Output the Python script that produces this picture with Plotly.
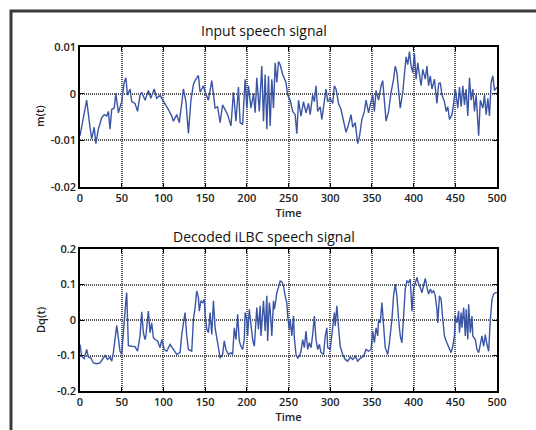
import plotly.graph_objects as go

# ---------------- data ----------------
t_in = [0, 8, 12, 14, 17, 19, 22, 26, 29, 32, 34, 36, 38, 41, 43, 46, 50, 53, 55, 57,
        60, 62, 66, 69, 72, 74, 78, 82, 85, 89, 92, 96, 98, 102, 106, 110, 112, 116, 119, 122,
        124, 127, 130, 133, 136, 138, 142, 144, 148, 150, 154, 158, 160, 162,
        165, 168, 171, 174, 177, 181, 184, 187, 190, 192, 195, 198, 200, 202, 205, 208,
        210, 212, 215, 218, 220, 222, 224, 226, 228, 230, 232, 234, 236, 238, 240, 243,
        247, 249, 252, 255, 258, 260, 262, 265, 268, 271, 274, 276, 279, 281, 283, 285,
        288, 290, 293, 295, 297, 300, 303, 305, 307, 310, 313, 316, 319, 322, 325, 327,
        330, 333, 335,
        338, 341, 343, 346, 348, 351, 353, 355, 358, 361, 363, 365, 367, 370, 373, 376,
        378, 380, 382, 384, 387, 389, 391, 393, 395, 397, 399, 401, 403, 405, 407, 409,
        411, 414, 416, 418, 420, 422, 425, 428, 430, 432, 434, 437, 439, 441, 443, 446,
        448, 450, 453, 455, 457, 459, 461, 463, 465, 467, 469, 471, 473, 475, 478, 480,
        483, 485, 487, 489, 491, 493, 495, 497, 500]
m_vals = [-9.0e-3, -1.4e-3, -7.2e-3, -9.7e-3, -7.2e-3, -10.7e-3, -7.6e-3, -5.2e-3, -4.5e-3, -4.8e-3,
          -3.8e-3, -7.6e-3, -3.4e-3, -3.1e-3, 0.0e-3, -4.1e-3, -1.7e-3, 2.4e-3, 3.4e-3, -0.3e-3,
          1.0e-3, -1.7e-3, -2.1e-3, -3.8e-3, -0.3e-3, 0.3e-3, -1.4e-3, 0.7e-3, -1.0e-3, 1.0e-3,
          -1.0e-3, -0.3e-3, -1.0e-3, -2.1e-3, -3.4e-3, -4.8e-3, -5.9e-3, -4.5e-3, -6.2e-3, -2.1e-3,
          1.0e-3, -1.7e-3, -8.5e-3, -1.4e-3, 2.0e-3, 2.8e-3, 3.9e-3, 0.3e-3, 1.7e-3, 0.3e-3,
          -1.4e-3, 2.8e-3, 0.3e-3, -3.1e-3,
          -2.8e-3, -6.2e-3, -2.4e-3, -3.4e-3, -4.5e-3, -6.9e-3, 0.3e-3, -5.9e-3, 1.4e-3, -6.2e-3,
          -6.6e-3, 3.1e-3, -3.1e-3, 1.7e-3, -3.1e-3, 0.0e-3, -4.1e-3, 3.4e-3, -3.8e-3, 5.9e-3,
          -5.9e-3, 4.1e-3, -7.6e-3, 3.8e-3, -6.9e-3, 3.1e-3, -3.1e-3, 6.6e-3, 2.4e-3, 6.9e-3,
          6.2e-3, 4.1e-3, 2.4e-3, -0.3e-3, -1.4e-3, -3.8e-3, -4.5e-3, -8.6e-3, -1.4e-3, -4.8e-3,
          -1.7e-3, -4.1e-3, -2.1e-3, -4.5e-3, -0.3e-3, -1.7e-3, 1.7e-3, -3.8e-3, -2.8e-3, -5.5e-3,
          -2.1e-3, 1.0e-3, -1.7e-3, -1.0e-3, -2.1e-3, 1.7e-3, 1.0e-3, -2.1e-3, -3.4e-3, -5.9e-3,
          -8.3e-3, -6.6e-3, -4.5e-3, -7.2e-3, -6.2e-3, -10.7e-3, -9.3e-3,
          -5.5e-3, -3.8e-3, -1.4e-3, -4.1e-3, -2.4e-3, -0.3e-3, -3.8e-3, 0.7e-3, -1.4e-3, 1.7e-3,
          2.8e-3, -1.0e-3, -5.9e-3, -3.8e-3, 0.3e-3, 3.1e-3, 5.9e-3, 4.5e-3, 1.0e-3, -3.1e-3,
          0.3e-3, 5.2e-3, 7.9e-3, 6.2e-3, 9.0e-3, 5.9e-3, 4.5e-3, 8.6e-3, 3.1e-3, 6.6e-3,
          4.5e-3, 1.7e-3, 5.2e-3, 3.1e-3, 5.9e-3, 1.7e-3, 3.8e-3, 1.0e-3, 3.1e-3, -2.1e-3,
          2.1e-3, 2.4e-3, -0.3e-3, -1.7e-3, -3.8e-3, -2.8e-3, -5.5e-3, -4.5e-3, -2.1e-3, 1.0e-3,
          -3.1e-3, 1.4e-3, -2.8e-3, 1.7e-3, -2.4e-3, 1.0e-3, -4.8e-3, 3.4e-3, -1.4e-3, 1.0e-3,
          -3.8e-3, -0.3e-3, -9.0e-3, -1.4e-3, -3.1e-3, -0.3e-3, -4.5e-3, -1.0e-3, -4.8e-3, 2.4e-3,
          3.8e-3, 0.7e-3, 1.4e-3]

t_dq = [0, 2, 5, 8, 10, 13, 16, 20, 24, 28, 30, 33, 36, 38, 40, 44, 46, 48, 50, 52,
        54, 55, 56, 57, 58, 62, 66, 69, 72, 74, 76, 78, 79, 81, 82, 84, 86, 88, 90, 93,
        96, 98, 101, 104, 108, 112, 116, 120, 122, 125, 126, 128, 130, 134, 136, 138, 140, 142, 143, 145,
        147, 149, 150, 152, 154, 156, 158, 160, 162, 165, 168, 171, 173, 175, 178, 181, 183, 185, 187, 189,
        191, 193, 195, 197, 198, 200, 201, 203, 205, 207, 209, 211, 212, 214, 216, 217, 219, 220, 222, 224,
        225, 227, 228, 230, 232, 233, 235, 236, 238, 240, 242, 244, 246, 248, 249, 251, 252, 254, 256, 257,
        259, 261, 263, 265, 267, 269, 271, 273, 275, 277, 279, 281, 283, 285, 287, 289, 292, 294, 296, 297,
        300, 301, 303, 305, 306, 308, 310, 312, 315, 318, 321, 324, 327, 330, 333, 336, 340, 343, 346, 349,
        351, 353, 355, 357, 358, 360, 362, 363, 365, 366, 369, 371, 374, 376, 378, 380, 382, 384, 386, 388,
        390, 392, 394, 396, 398, 400, 402, 404, 406, 408, 410, 412, 414, 416, 418, 420, 422, 424, 426, 428,
        429, 431, 433, 435, 437, 439, 442, 445, 447, 449, 450, 452, 454, 455, 457, 458, 460, 462, 463, 465,
        466, 468, 470, 471, 474, 476, 478, 481, 482, 484, 486, 488, 490, 492, 494, 496, 498, 500]
dq_vals = [-0.069, -0.102, -0.109, -0.083, -0.104, -0.107, -0.121, -0.123, -0.121, -0.107, -0.100, -0.111, -0.104, -0.116, -0.092, -0.015, -0.045, -0.088, -0.097, -0.026,
           0.049, 0.054, 0.077, 0.002, -0.072, -0.074, -0.075, -0.088, -0.045, 0.023, -0.036, -0.055, -0.045, 0.002, 0.025, -0.036, -0.008, -0.050, -0.055, -0.059,
           -0.078, -0.055, -0.083, -0.088, -0.069, -0.083, -0.097, -0.092, -0.041, 0.007, 0.021, -0.045, -0.083, -0.088, 0.002, 0.035, 0.082, 0.063, 0.025, 0.054,
           0.049, 0.058, 0.016, -0.026, -0.036, 0.021, -0.041, 0.054, -0.022, -0.064, -0.107, -0.097, -0.059, -0.083, -0.097, -0.092, -0.097, -0.022, -0.055, 0.016,
           -0.059, -0.074, -0.083, -0.055, 0.021, 0.002, -0.045, 0.030, -0.022, -0.055, -0.074, 0.002, 0.035, -0.026, 0.040, -0.045, 0.040, 0.054, -0.031, 0.068,
           -0.059, 0.049, 0.030, -0.045, 0.054, 0.030, 0.058, 0.077, 0.092, 0.110, 0.108, 0.096, 0.068, 0.049, 0.011, -0.026, 0.002, -0.045, 0.011, -0.050,
           -0.097, -0.107, -0.102, -0.088, -0.055, -0.078, -0.031, -0.083, -0.064, -0.078, -0.041, 0.011, -0.055, -0.083, -0.069, -0.092, -0.097, -0.045, -0.022, -0.078,
           -0.083, -0.059, -0.008, 0.021, -0.017, 0.040, -0.022, -0.074, -0.097, -0.111, -0.116, -0.104, -0.111, -0.102, -0.116, -0.108, -0.102, -0.083, -0.088, -0.083,
           -0.031, -0.064, -0.022, -0.045, 0.002, -0.008, 0.049, 0.011, -0.045, -0.078, -0.097, -0.064, 0.002, 0.068, 0.101, 0.068, 0.002, -0.045, -0.064, 0.030,
           0.087, 0.110, 0.106, 0.115, 0.025, 0.087, 0.106, 0.120, 0.101, 0.092, 0.077, 0.101, 0.117, 0.092, 0.073, 0.087, 0.077, 0.082, 0.068, 0.030,
           -0.008, 0.068, 0.058, 0.002, -0.045, -0.059, -0.078, -0.092, -0.074, -0.045, 0.011, -0.008, 0.025, -0.036, 0.021, -0.022, 0.035, -0.045, 0.030, -0.055,
           0.044, -0.036, 0.011, -0.045, -0.055, -0.083, -0.092, -0.055, -0.045, -0.074, -0.041, -0.069, -0.088, 0.002, 0.058, 0.073, 0.077, 0.077]

x_ticks = [0, 50, 100, 150, 200, 250, 300, 350, 400, 450, 500]
m_ticks = [-0.02, -0.01, 0, 0.01]
m_tick_text = ["-0.02", "-0.01", "0", "0.01"]
dq_ticks = [-0.2, -0.1, 0, 0.1, 0.2]
dq_tick_text = ["-0.2", "-0.1", "0", "0.1", "0.2"]

titles = ["Input speech signal", "Decoded iLBC speech signal"]
y_titles = ["m(t)", "Dq(t)"]
x_title = "Time"

# ---------------- figure ----------------
LINE = "#3a55a6"
FONT = "Open Sans"

fig = go.Figure()
fig.add_trace(go.Scatter(x=t_in, y=m_vals, mode="lines", xaxis="x", yaxis="y",
                         line=dict(color=LINE, width=1.4), showlegend=False))
fig.add_trace(go.Scatter(x=t_dq, y=dq_vals, mode="lines", xaxis="x2", yaxis="y2",
                         line=dict(color=LINE, width=1.4), showlegend=False))

W, H = 536, 430
xdom = [80 / W, 497 / W]
y1dom = [(H - 187) / H, (H - 47) / H]
y2dom = [(H - 391) / H, (H - 249) / H]

tickfont = dict(family=FONT, size=11, color="#222", weight=600)
grid = dict(showgrid=True, gridcolor="#555", griddash="1px,1px", gridwidth=1.5)
common_x = dict(range=[0, 500], tickvals=x_ticks, ticks="inside", ticklen=4, tickcolor="black",
                showline=True, linecolor="black", linewidth=1.5, mirror="ticks",
                zeroline=False, tickfont=tickfont, automargin=False, **grid,
                title=dict(text=x_title, font=dict(family=FONT, size=11, color="#222", weight=600), standoff=5))
common_y = dict(ticks="inside", ticklen=4, tickcolor="black",
                showline=True, linecolor="black", linewidth=1.5, mirror="ticks",
                zeroline=False, tickfont=tickfont, automargin=False, **grid)

fig.update_layout(
    template="none",
    width=W, height=H,
    margin=dict(l=0, r=0, t=0, b=0, pad=0),
    paper_bgcolor="white", plot_bgcolor="white",
    xaxis=dict(domain=xdom, anchor="y", **common_x),
    yaxis=dict(domain=y1dom, anchor="x", range=[-0.02, 0.01], tickvals=m_ticks, ticktext=m_tick_text, **common_y),
    xaxis2=dict(domain=xdom, anchor="y2", **common_x),
    yaxis2=dict(domain=y2dom, anchor="x2", range=[-0.2, 0.2], tickvals=dq_ticks, ticktext=dq_tick_text, **common_y),
)

# panel titles and y-axis labels
ann = dict(xref="paper", yref="paper", showarrow=False, xanchor="center", yanchor="middle")
fig.add_annotation(text=titles[0], x=264 / W, y=(H - 31) / H,
                   font=dict(family=FONT, size=14, color="#111"), **ann)
fig.add_annotation(text=titles[1], x=264 / W, y=(H - 237) / H,
                   font=dict(family=FONT, size=14, color="#111"), **ann)
fig.add_annotation(text=y_titles[0], x=40 / W, y=(H - 116) / H, textangle=-90,
                   font=dict(family=FONT, size=11, color="#222", weight=600), **ann)
fig.add_annotation(text=y_titles[1], x=40 / W, y=(H - 320) / H, textangle=-90,
                   font=dict(family=FONT, size=11, color="#222", weight=600), **ann)

# outer frame of the figure
fig.add_shape(type="rect", xref="paper", yref="paper",
              x0=11 / W, x1=1.02, y0=-0.02, y1=(H - 11) / H,
              line=dict(color="#3a3a3a", width=3), fillcolor="rgba(0,0,0,0)", layer="below")

fig.write_html("out.html",
               post_script="document.body.style.margin='0';document.body.style.overflow='hidden';")
